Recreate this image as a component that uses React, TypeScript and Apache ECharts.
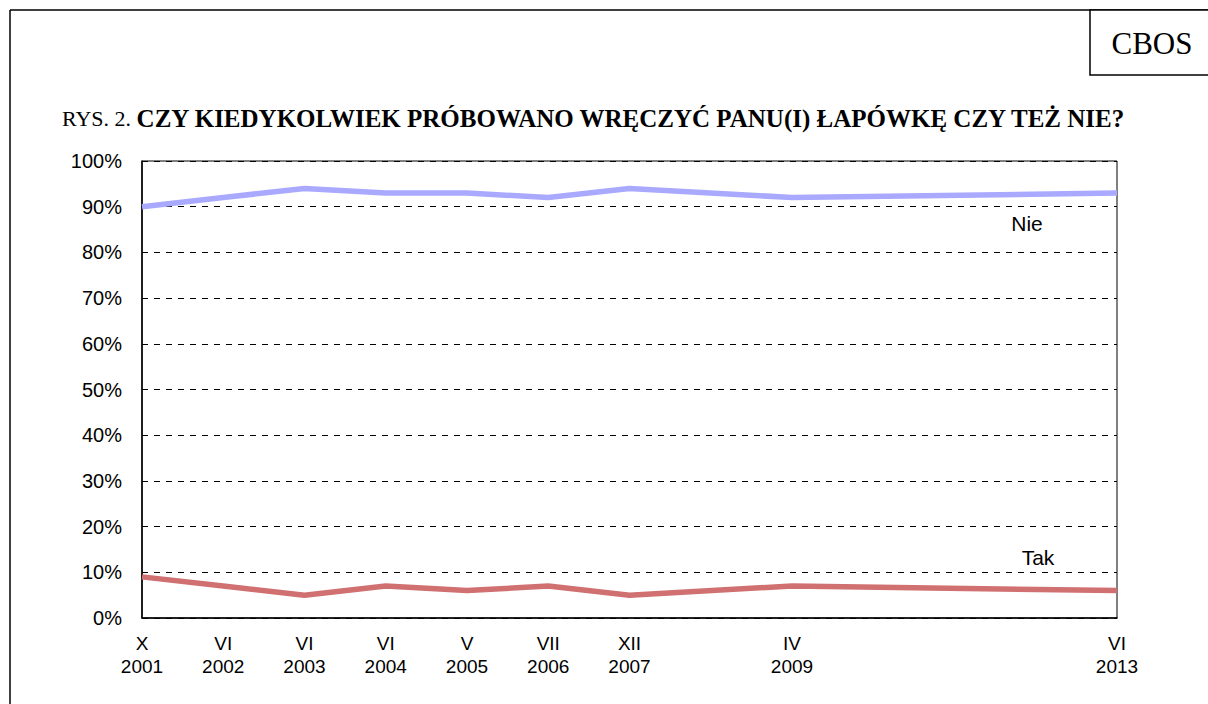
import React, { useEffect, useRef } from "react";
import * as echarts from "echarts";

const categories = [
  "X\n2001", "VI\n2002", "VI\n2003", "VI\n2004", "V\n2005", "VII\n2006", "XII\n2007",
  "", "IV\n2009", "", "", "", "VI\n2013",
];
const nieValues = [90, 92, 94, 93, 93, 92, 94, null, 92, null, null, null, 93];
const takValues = [9, 7, 5, 7, 6, 7, 5, null, 7, null, null, null, 6];
const yTicks = [0, 10, 20, 30, 40, 50, 60, 70, 80, 90, 100];

export default function App() {
  const ref = useRef<HTMLDivElement>(null);
  useEffect(() => {
    const chart = echarts.init(ref.current!, undefined, { renderer: "svg" });
    const sans = "'Liberation Sans', Arial, sans-serif";
    const serif = "'Liberation Serif', 'Times New Roman', serif";
    chart.setOption({
      animation: false,
      backgroundColor: "#fff",
      grid: {
        left: 142,
        right: 91,
        top: 161,
        bottom: 86,
        show: true,
        borderColor: "#000",
        borderWidth: 1,
      },
      xAxis: {
        type: "category",
        data: categories,
        boundaryGap: false,
        axisLine: { lineStyle: { color: "#000", width: 1.5 } },
        axisTick: { show: false },
        axisLabel: {
          interval: 0,
          color: "#000",
          fontFamily: sans,
          fontSize: 19,
          lineHeight: 23,
          margin: 14,
        },
        splitLine: { show: false },
      },
      yAxis: {
        type: "value",
        min: yTicks[0],
        max: yTicks[yTicks.length - 1],
        interval: 10,
        axisLine: { show: true, lineStyle: { color: "#000", width: 1.5 } },
        axisTick: { show: false },
        axisLabel: {
          formatter: "{value}%",
          color: "#000",
          fontFamily: sans,
          fontSize: 20,
          margin: 20,
        },
        splitLine: { show: true, lineStyle: { color: "#000", type: [6, 6], width: 1 } },
      },
      series: [
        {
          name: "Nie",
          type: "line",
          data: nieValues,
          connectNulls: true,
          symbol: "none",
          lineStyle: { color: "#A9A9FF", width: 5.5 },
          itemStyle: { color: "#A9A9FF" },
        },
        {
          name: "Tak",
          type: "line",
          data: takValues,
          connectNulls: true,
          symbol: "none",
          lineStyle: { color: "#D07070", width: 5.5 },
          itemStyle: { color: "#D07070" },
        },
      ],
      graphic: [
        { type: "line", shape: { x1: 10, y1: 10, x2: 1208, y2: 10 }, style: { stroke: "#000", lineWidth: 1.5 } },
        { type: "line", shape: { x1: 10, y1: 10, x2: 10, y2: 704 }, style: { stroke: "#000", lineWidth: 1.5 } },
        { type: "rect", shape: { x: 1090, y: 10, width: 130, height: 65 }, style: { fill: "#fff", stroke: "#000", lineWidth: 1.5 } },
        {
          type: "text",
          x: 1152,
          y: 43,
          style: { text: "CBOS", font: `31px ${serif}`, fill: "#000", align: "center", verticalAlign: "middle" },
        },
        {
          type: "text",
          x: 62,
          y: 118,
          style: {
            text: "{a|RYS. 2. }{b|CZY KIEDYKOLWIEK PRÓBOWANO WRĘCZYĆ PANU(I) ŁAPÓWKĘ CZY TEŻ NIE?}",
            verticalAlign: "middle",
            rich: {
              a: { fontFamily: serif, fontSize: 22, color: "#000" },
              b: { fontFamily: serif, fontSize: 25, fontWeight: "bold", color: "#000" },
            },
          },
        },
        {
          type: "text",
          x: 1027,
          y: 223,
          style: { text: "Nie", font: `21px ${sans}`, fill: "#000", align: "center", verticalAlign: "middle" },
        },
        {
          type: "text",
          x: 1038,
          y: 557,
          style: {
            text: "Tak",
            font: `21px ${sans}`,
            fill: "#000",
            align: "center",
            verticalAlign: "middle",
            backgroundColor: "#fff",
            padding: [2, 9],
          },
        },
      ],
    });
    return () => chart.dispose();
  }, []);
  return (
    <div
      ref={ref}
      style={{ position: "fixed", left: 0, top: 0, width: 1208, height: 704, background: "#fff" }}
    />
  );
}
